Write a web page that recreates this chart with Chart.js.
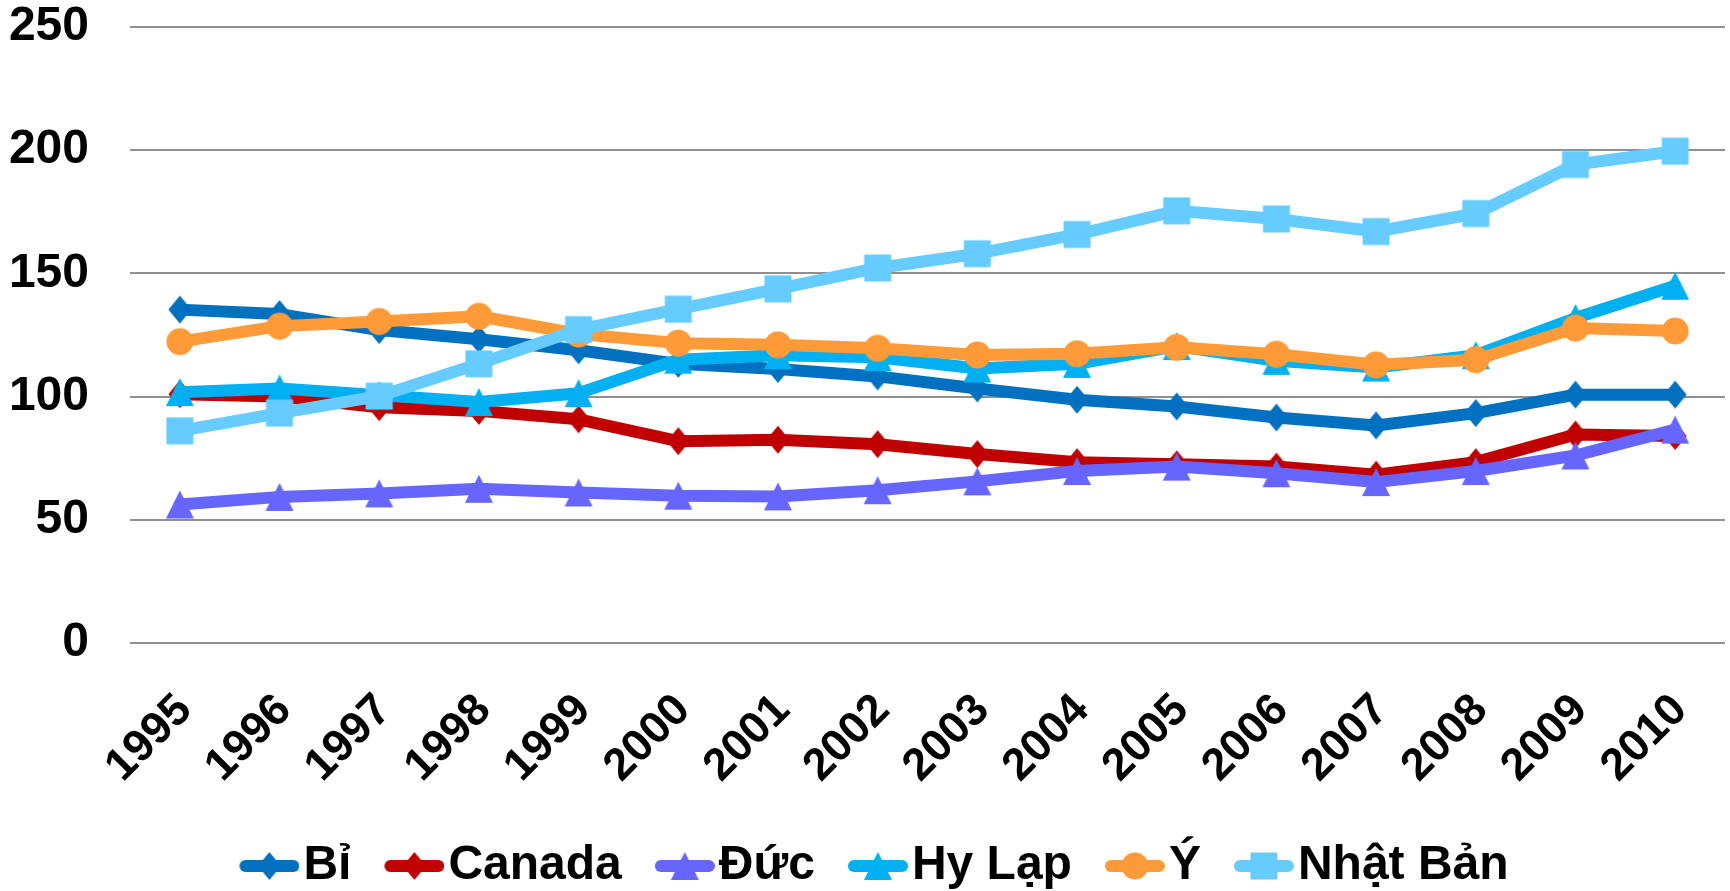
<!DOCTYPE html>
<html>
<head>
<meta charset="utf-8">
<script src="https://cdn.jsdelivr.net/npm/chart.js@4/dist/chart.umd.min.js"></script>
<style>
  html, body { margin: 0; padding: 0; background: #ffffff; }
  #wrap { width: 1730px; height: 891px; }
</style>
</head>
<body>
<div id="wrap"><canvas id="chart" width="1730" height="891"></canvas></div>
<script>
// Years on the category axis
const years = ['1995', '1996', '1997', '1998', '1999', '2000', '2001', '2002',
               '2003', '2004', '2005', '2006', '2007', '2008', '2009', '2010'];

// Series values (index, one value per year)
const bi      = [135.3, 133.5, 127.0, 123.3, 118.8, 113.3, 111.2, 108.2, 103.3, 98.7, 96.0, 91.5, 88.3, 93.3, 100.8, 100.8];
const canada  = [101.0, 100.0, 95.7, 94.2, 90.8, 81.9, 82.5, 80.7, 76.7, 73.4, 72.5, 71.6, 68.3, 73.4, 84.6, 84.0];
const duc     = [56.2, 59.3, 60.7, 62.6, 61.1, 59.8, 59.5, 62.0, 65.6, 69.8, 71.6, 68.9, 65.3, 69.8, 76.1, 86.6];
const hyLap   = [101.8, 103.3, 100.6, 97.8, 101.4, 115.0, 116.8, 116.0, 111.4, 113.3, 120.5, 114.5, 111.8, 116.8, 131.9, 145.0];
const yItaly  = [122.3, 128.6, 130.5, 132.6, 125.4, 121.7, 121.0, 119.6, 116.9, 117.4, 120.0, 117.2, 112.9, 115.0, 127.8, 126.6];
const nhatBan = [86.1, 93.3, 100.2, 113.3, 127.2, 135.5, 143.7, 152.2, 158.0, 165.8, 175.4, 172.1, 167.0, 174.3, 194.2, 199.6];

// Y-axis ticks
const yTicks = [0, 50, 100, 150, 200, 250];

const FONT = '"Liberation Sans", Arial, sans-serif';
const LINE_W = 12;

const seriesDefs = [
  { label: 'Bỉ',       data: bi,      color: '#0070C0', shape: 'diamond' },
  { label: 'Canada',   data: canada,  color: '#C00000', shape: 'diamond' },
  { label: 'Đức',      data: duc,     color: '#6666FF', shape: 'triangle' },
  { label: 'Hy Lạp',   data: hyLap,   color: '#00B0F0', shape: 'triangle' },
  { label: 'Ý',        data: yItaly,  color: '#FF9A38', shape: 'circle' },
  { label: 'Nhật Bản', data: nhatBan, color: '#66CCFF', shape: 'square' }
];

// Draw a marker shape centred on (cx, cy)
function drawShape(ctx, shape, cx, cy) {
  ctx.beginPath();
  if (shape === 'diamond') {
    ctx.moveTo(cx, cy - 14); ctx.lineTo(cx + 11.5, cy); ctx.lineTo(cx, cy + 14); ctx.lineTo(cx - 11.5, cy);
    ctx.closePath();
  } else if (shape === 'triangle') {
    ctx.moveTo(cx, cy - 14); ctx.lineTo(cx + 14, cy + 14); ctx.lineTo(cx - 14, cy + 14);
    ctx.closePath();
  } else if (shape === 'circle') {
    ctx.arc(cx, cy, 13.5, 0, Math.PI * 2);
  } else {
    ctx.rect(cx - 13.5, cy - 13.5, 27, 27);
  }
  ctx.fill();
}

// Marker image used as the point style
function makeMarker(def) {
  const c = document.createElement('canvas');
  c.width = 30; c.height = 30;
  const ctx = c.getContext('2d');
  ctx.fillStyle = def.color;
  drawShape(ctx, def.shape, 15, 15);
  return c;
}

// Legend swatch: a short line segment with the marker on top (content sits at the right end)
function makeSwatch(def) {
  const c = document.createElement('canvas');
  c.width = 103; c.height = 32;
  const ctx = c.getContext('2d');
  ctx.strokeStyle = def.color;
  ctx.lineWidth = LINE_W;
  ctx.lineCap = 'round';
  ctx.beginPath();
  ctx.moveTo(43 + 6, 16); ctx.lineTo(103 - 6, 16);
  ctx.stroke();
  ctx.fillStyle = def.color;
  drawShape(ctx, def.shape, 73, 16);
  return c;
}

const datasets = seriesDefs.map((d, i) => ({
  label: d.label,
  data: d.data,
  borderColor: d.color,
  backgroundColor: d.color,
  borderWidth: LINE_W,
  borderJoinStyle: 'round',
  borderCapStyle: 'round',
  pointStyle: makeMarker(d),
  pointRadius: 14,
  pointHoverRadius: 14,
  tension: 0,
  fill: false,
  order: seriesDefs.length - i,
  swatch: makeSwatch(d)
}));

new Chart(document.getElementById('chart'), {
  type: 'line',
  data: { labels: years, datasets },
  options: {
    responsive: false,
    animation: false,
    devicePixelRatio: 1,
    layout: { autoPadding: false, padding: { top: 0, right: 5, bottom: -9, left: 0 } },
    plugins: {
      tooltip: { enabled: false },
      legend: {
        position: 'bottom',
        labels: {
          font: { family: FONT, size: 48, weight: 'bold' },
          color: '#000000',
          usePointStyle: true,
          pointStyleWidth: 63,
          padding: 10,
          generateLabels: (chart) => chart.data.datasets.map((ds, i) => ({
            text: ds.label,
            fillStyle: ds.borderColor,
            strokeStyle: ds.borderColor,
            lineWidth: 0,
            pointStyle: ds.swatch,
            hidden: false,
            datasetIndex: i,
            fontColor: '#000000'
          }))
        }
      }
    },
    scales: {
      x: {
        offset: true,
        grid: { display: false, drawTicks: false },
        border: { display: false },
        ticks: {
          font: { family: FONT, size: 45, weight: 'bold' },
          color: '#000000',
          maxRotation: 45,
          minRotation: 45,
          autoSkip: false,
          labelOffset: 5,
          padding: 41
        },
        afterFit: (scale) => {
          scale.height = 189;
          scale.paddingLeft = 0;
          scale.paddingRight = 0;
        }
      },
      y: {
        min: 0,
        max: 250,
        afterBuildTicks: (scale) => { scale.ticks = yTicks.map(v => ({ value: v })); },
        grid: { color: '#8f8f8f', lineWidth: 2, drawTicks: false },
        border: { display: false },
        ticks: {
          font: { family: FONT, size: 48, weight: 'bold' },
          color: '#000000',
          padding: 41
        },
        afterFit: (scale) => {
          scale.width = 130;
          scale.paddingTop = 27;
          scale.paddingBottom = 27;
        }
      }
    }
  }
});
</script>
</body>
</html>
